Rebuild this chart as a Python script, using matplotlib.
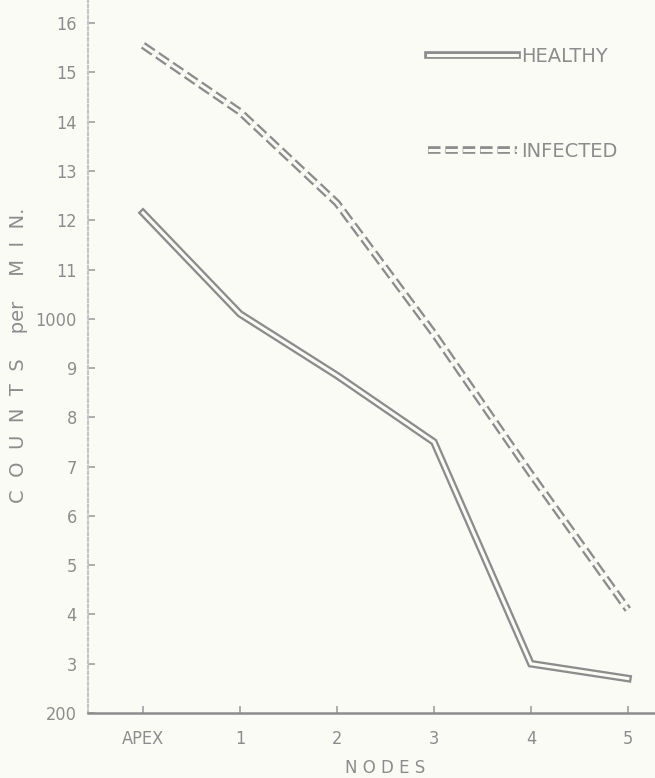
import matplotlib
matplotlib.use('Agg')
import matplotlib.pyplot as plt
import matplotlib.patheffects as pe

plt.rcParams['lines.scale_dashes'] = False

# data
nodes = ['APEX', '1', '2', '3', '4', '5']
healthy = [1215, 1010, 885, 750, 300, 270]
infected = [1555, 1420, 1235, 970, 685, 410]
yticks = [200, 300, 400, 500, 600, 700, 800, 900, 1000, 1100, 1200, 1300, 1400, 1500, 1600]
ylabels = ['200', '3', '4', '5', '6', '7', '8', '9', '1000', '11', '12', '13', '14', '15', '16']

ink = '#8c8c8c'
paper = '#fbfbf6'

fig = plt.figure(figsize=(6.55, 7.78), dpi=100, facecolor=paper)
ax = fig.add_axes([88/655, 65/778, 1 - 88/655, 713/778])
ax.set_facecolor(paper)

x = list(range(len(nodes)))
hollow = lambda w: [pe.Stroke(linewidth=w, foreground=ink), pe.Normal()]

ax.plot(x, healthy, color=paper, lw=2.2, solid_joinstyle='miter',
        path_effects=hollow(5.5), label='HEALTHY')
ax.plot(x, infected, color=paper, lw=2.2, linestyle=(0, (9, 3.5)),
        path_effects=hollow(5.5), label='INFECTED')

ax.set_xlim(-0.567, 5.28)
ax.set_ylim(200, 1647)

tickfont = dict(family='DejaVu Sans', stretch='condensed', size=13, color=ink)
ax.set_xticks(x)
ax.set_xticklabels(nodes, **tickfont)
ax.set_yticks(yticks)
ax.set_yticklabels(ylabels, **tickfont)
ax.tick_params(axis='both', direction='in', length=5, width=1.2, color='#a0a0a0')
ax.tick_params(axis='x', pad=12)
ax.tick_params(axis='y', pad=8)

for s in ['top', 'right']:
    ax.spines[s].set_visible(False)
ax.spines['bottom'].set_color(ink)
ax.spines['bottom'].set_linewidth(1.8)
ax.spines['left'].set_color('#c4c4c4')
ax.spines['left'].set_linewidth(1.5)
ax.spines['left'].set_linestyle((0, (2, 2)))

ax.set_xlabel('N O D E S', fontsize=12, color=ink)
ax.xaxis.set_label_coords((385 - 88) / 567, -(759 - 713) / 713)
ax.set_ylabel('C  O  U  N  T  S    per    M  I  N.', fontsize=14, color=ink)
ax.yaxis.set_label_coords(-(88 - 28) / 567, (713 - 355) / 713)

leg = ax.legend(loc='upper left', bbox_to_anchor=(428/655, 1 - 47/778),
                bbox_transform=fig.transFigure, frameon=False,
                handlelength=4.6, handletextpad=0.2, labelspacing=3.9,
                borderpad=0, borderaxespad=0, prop=dict(size=14))
for t in leg.get_texts():
    t.set_color(ink)

plt.savefig('out.png', dpi=100, facecolor=paper)
